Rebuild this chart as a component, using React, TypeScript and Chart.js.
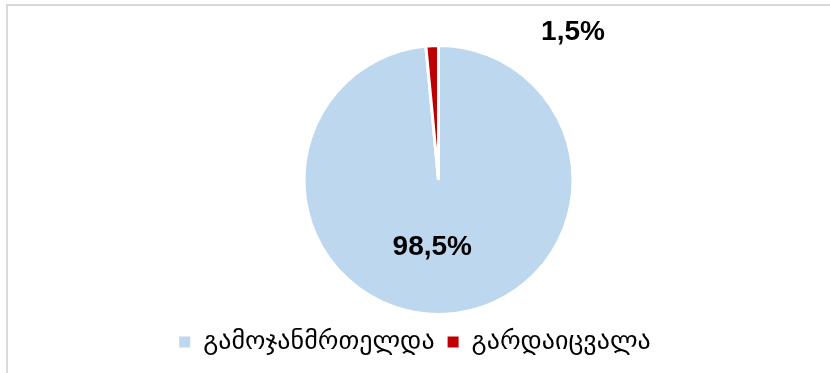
import React, { useEffect, useRef } from "react";
import { Chart, registerables } from "chart.js";

Chart.register(...registerables);

const categories = ["გამოჯანმრთელდა", "გარდაიცვალა"];
const shares = [98.5, 1.5];
const sliceColors = ["#BDD7EE", "#C00000"];

const fmt = (v: number) => v.toFixed(1).replace(".", ",") + "%";

const labelPlugin = {
  id: "pctLabels",
  afterDatasetsDraw(chart: any) {
    const meta = chart.getDatasetMeta(0);
    const ctx = chart.ctx;
    ctx.save();
    ctx.font = 'bold 28px "Liberation Sans", Arial, sans-serif';
    ctx.fillStyle = "#000000";
    ctx.textAlign = "center";
    ctx.textBaseline = "middle";
    meta.data.forEach((arc: any, i: number) => {
      const p = arc.getProps(["x", "y", "startAngle", "endAngle", "outerRadius"], true);
      const mid = (p.startAngle + p.endAngle) / 2;
      let tx: number, ty: number;
      if (i === 0) {
        tx = p.x + Math.cos(mid) * p.outerRadius * 0.5 - p.outerRadius * 0.07;
        ty = p.y + Math.sin(mid) * p.outerRadius * 0.5;
      } else {
        tx = p.x + p.outerRadius * 1.0;
        ty = p.y - p.outerRadius * 1.1;
      }
      ctx.fillText(fmt(shares[i]), tx, ty);
    });
    ctx.restore();
  },
};

// shift the plot area to the right of the (centred) legend, like the original
const shiftPlugin = {
  id: "shiftArea",
  afterLayout(chart: any) {
    const a = chart.chartArea;
    a.left += 47;
    a.width = a.right - a.left;
  },
};

export default function App() {
  const ref = useRef<HTMLCanvasElement | null>(null);
  useEffect(() => {
    if (!ref.current) return;
    const baseGen = (Chart as any).overrides.pie.plugins.legend.labels.generateLabels;
    const chart = new Chart(ref.current, {
      type: "pie",
      data: {
        labels: categories,
        datasets: [
          {
            data: shares,
            backgroundColor: sliceColors,
            borderColor: "#FFFFFF",
            borderWidth: 3,
          },
        ],
      },
      options: {
        animation: false,
        responsive: false,
        maintainAspectRatio: false,
        layout: { padding: { top: 44, left: 0, right: 0, bottom: 8 } },
        plugins: {
          tooltip: { enabled: false },
          legend: {
            position: "bottom",
            labels: {
              boxWidth: 11,
              boxHeight: 11,
              padding: 13,
              color: "#000000",
              font: { family: '"DejaVu Sans", sans-serif', size: 26 },
              generateLabels: (c: any) =>
                baseGen(c).map((l: any) => ({ ...l, lineWidth: 0, strokeStyle: l.fillStyle })),
            },
          },
        },
      },
      plugins: [labelPlugin, shiftPlugin],
    });
    return () => chart.destroy();
  }, []);

  return (
    <div style={{ position: "absolute", left: 0, top: 0, width: 830, height: 373, overflow: "hidden", background: "#fff" }}>
      <div
        style={{
          position: "absolute",
          left: 6,
          top: 4,
          width: 840,
          height: 400,
          border: "2px solid #D9D9D9",
          boxSizing: "border-box",
        }}
      />
      <canvas ref={ref} width={830} height={373} style={{ position: "absolute", left: 0, top: 0 }} />
    </div>
  );
}
